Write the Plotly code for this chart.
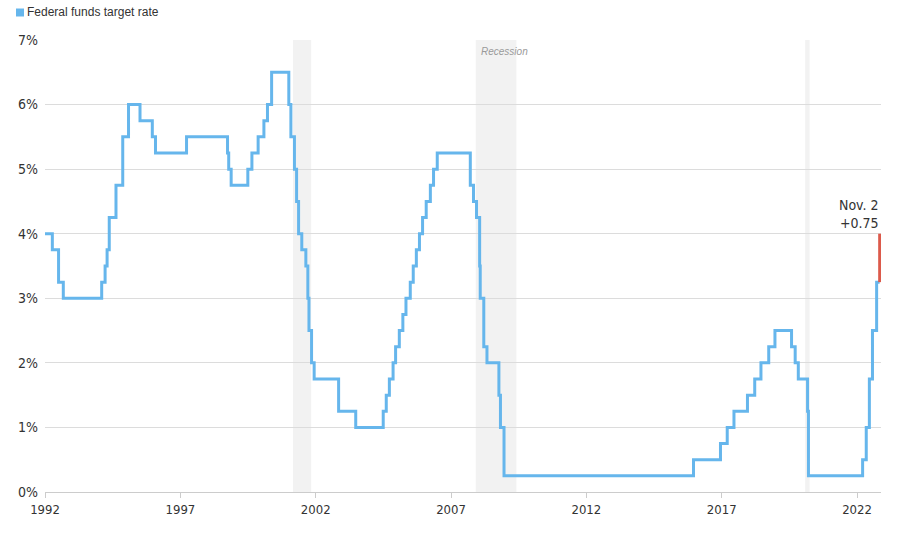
import plotly.graph_objects as go

# Federal funds target rate (upper bound), change dates and new levels
change_dates = [
    "1992-01-01", "1992-04-09", "1992-07-02", "1992-09-04",
    "1994-02-04", "1994-03-22", "1994-04-18", "1994-05-17", "1994-08-16", "1994-11-15",
    "1995-02-01", "1995-07-06", "1995-12-19", "1996-01-31", "1997-03-25",
    "1998-09-29", "1998-10-15", "1998-11-17", "1999-06-30", "1999-08-24", "1999-11-16",
    "2000-02-02", "2000-03-21", "2000-05-16",
    "2001-01-03", "2001-01-31", "2001-03-20", "2001-04-18", "2001-05-15", "2001-06-27",
    "2001-08-21", "2001-09-17", "2001-10-02", "2001-11-06", "2001-12-11",
    "2002-11-06", "2003-06-25",
    "2004-06-30", "2004-08-10", "2004-09-21", "2004-11-10", "2004-12-14",
    "2005-02-02", "2005-03-22", "2005-05-03", "2005-06-30", "2005-08-09", "2005-09-20",
    "2005-11-01", "2005-12-13", "2006-01-31", "2006-03-28", "2006-05-10", "2006-06-29",
    "2007-09-18", "2007-10-31", "2007-12-11", "2008-01-22", "2008-01-30", "2008-03-18",
    "2008-04-30", "2008-10-08", "2008-10-29", "2008-12-16",
    "2015-12-17", "2016-12-15", "2017-03-16", "2017-06-15", "2017-12-14",
    "2018-03-22", "2018-06-14", "2018-09-27", "2018-12-20",
    "2019-08-01", "2019-09-19", "2019-10-31", "2020-03-04", "2020-03-16",
    "2022-03-17", "2022-05-05", "2022-06-16", "2022-07-28", "2022-09-22", "2022-11-02",
]
rates = [
    4.00, 3.75, 3.25, 3.00,
    3.25, 3.50, 3.75, 4.25, 4.75, 5.50,
    6.00, 5.75, 5.50, 5.25, 5.50,
    5.25, 5.00, 4.75, 5.00, 5.25, 5.50,
    5.75, 6.00, 6.50,
    6.00, 5.50, 5.00, 4.50, 4.00, 3.75,
    3.50, 3.00, 2.50, 2.00, 1.75,
    1.25, 1.00,
    1.25, 1.50, 1.75, 2.00, 2.25,
    2.50, 2.75, 3.00, 3.25, 3.50, 3.75,
    4.00, 4.25, 4.50, 4.75, 5.00, 5.25,
    4.75, 4.50, 4.25, 3.50, 3.00, 2.25,
    2.00, 1.50, 1.00, 0.25,
    0.50, 0.75, 1.00, 1.25, 1.50,
    1.75, 2.00, 2.25, 2.50,
    2.25, 2.00, 1.75, 1.25, 0.25,
    0.50, 1.00, 1.75, 2.50, 3.25, 3.25,
]

latest_date = "2022-11-02"
latest_label = "Nov. 2"
prev_rate = 3.25
new_rate = 4.00
latest_change = "+0.75"

recession_starts = ["2001-03-01", "2007-12-01", "2020-02-01"]
recession_ends = ["2001-11-01", "2009-06-01", "2020-04-01"]

tick_years = ["1992", "1997", "2002", "2007", "2012", "2017", "2022"]
y_ticks = [0, 1, 2, 3, 4, 5, 6, 7]
y_tick_labels = ["0%", "1%", "2%", "3%", "4%", "5%", "6%", "7%"]

BLUE = "#66b6ec"
RED = "#dc5a4b"
COND = "Liberation Sans Narrow, DejaVu Sans Condensed, Arial Narrow, sans-serif"

fig = go.Figure()

fig.add_trace(go.Scatter(
    x=change_dates, y=rates, mode="lines", line=dict(color=BLUE, width=3, shape="hv"),
    name="Federal funds target rate", showlegend=False, hoverinfo="x+y",
))
fig.add_trace(go.Scatter(
    x=[latest_date, latest_date], y=[prev_rate, new_rate], mode="lines",
    line=dict(color=RED, width=3), showlegend=False, hoverinfo="x+y",
))

for s, e in zip(recession_starts, recession_ends):
    fig.add_shape(type="rect", xref="x", yref="y", x0=s, x1=e, y0=0, y1=7,
                  fillcolor="#f2f2f2", line=dict(width=0), layer="below")

fig.add_annotation(x=recession_starts[1], y=7, xref="x", yref="y", text="<i>Recession</i>",
                   showarrow=False, xanchor="left", yanchor="top", xshift=3, yshift=-4,
                   font=dict(family="Liberation Sans, Arial, sans-serif", size=10, color="#9a9a9a"))

fig.add_annotation(x=latest_date, y=new_rate, xref="x", yref="y",
                   text=f"{latest_label}<br>{latest_change}", showarrow=False,
                   xanchor="right", yanchor="bottom", align="right", xshift=1, yshift=1,
                   font=dict(family=COND, size=14, color="#333333"))

# legend (square swatch + label)
fig.add_shape(type="rect", xref="paper", yref="paper",
              x0=-29 / 836, x1=-21 / 836, y0=1 + 23.5 / 452, y1=1 + 31.5 / 452,
              fillcolor=BLUE, line=dict(width=0))
fig.add_annotation(xref="paper", yref="paper", x=-20 / 836, y=1 + 27.5 / 452,
                   text="Federal funds target rate", showarrow=False,
                   xanchor="left", yanchor="middle",
                   font=dict(family="Liberation Sans, Arial, sans-serif", size=12, color="#333333"))

fig.update_layout(
    width=902, height=533,
    margin=dict(l=45, r=21, t=40, b=41),
    paper_bgcolor="white", plot_bgcolor="white",
    showlegend=False,
    xaxis=dict(
        type="date", range=["1992-01-01", "2022-11-20"],
        tickvals=[f"{y}-01-01" for y in tick_years], ticktext=tick_years,
        showgrid=False, zeroline=False, showline=True, linecolor="#cccccc", linewidth=1,
        ticks="outside", ticklen=5, tickcolor="#cccccc",
        tickfont=dict(family=COND, size=13, color="#333333"),
    ),
    yaxis=dict(
        range=[0, 7], tickvals=y_ticks, ticktext=y_tick_labels,
        showgrid=True, gridcolor="#dcdcdc", gridwidth=1, zeroline=False, showline=False,
        ticks="", ticklabelstandoff=6,
        tickfont=dict(family=COND, size=14, color="#333333"),
    ),
)

fig.write_html("out.html", config={"displayModeBar": False},
               post_script="document.body.style.margin='0';")
